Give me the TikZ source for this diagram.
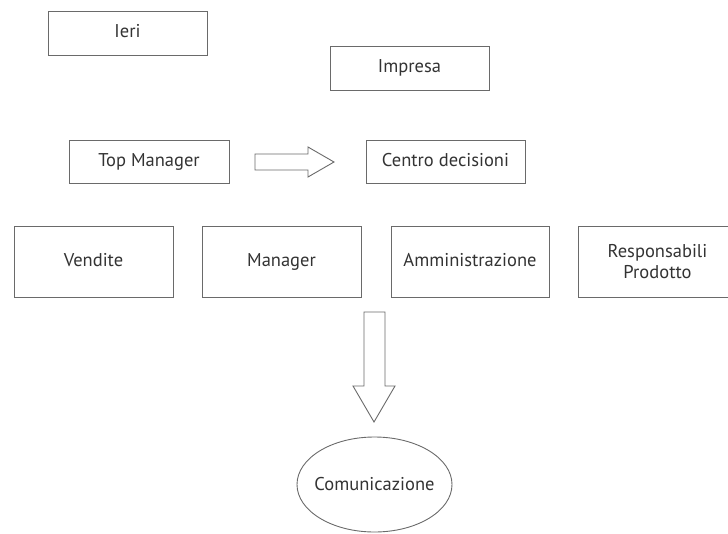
\documentclass[tikz,border=0pt]{standalone}
\usepackage{fontspec}
\setmainfont{PT Sans}
\usetikzlibrary{shapes.geometric}
\definecolor{linegray}{HTML}{6A6A6A}
\definecolor{textgray}{HTML}{333333}
\tikzset{
  box/.style={draw=linegray, line width=0.9pt, rectangle, inner sep=0pt, align=center,
    text=textgray, font=\fontsize{18.5}{21}\selectfont},
  oneline/.style={text height=13pt, text depth=4pt},
  oval/.style={draw=linegray, line width=0.9pt, ellipse, inner sep=0pt},
  ovaltext/.style={text=textgray, font=\fontsize{18.5}{21}\selectfont},
  hollowarrow/.style={draw=linegray, line width=0.9pt, fill=white, line join=miter}
}
\begin{document}
\begin{tikzpicture}[x=1pt,y=-1pt]
\useasboundingbox (0,0) rectangle (728,533);
\begin{scope}
\clip (0,0) rectangle (728,533);
\node[box, oneline, minimum width=159pt, minimum height=44pt] (ieri) at (127.5,33) {Ieri};
\node[box, oneline, minimum width=159pt, minimum height=44pt] (impresa) at (409.5,68) {Impresa};
\node[box, oneline, minimum width=160pt, minimum height=43pt] (top) at (149,161.5) {Top Manager};
\node[box, oneline, minimum width=159pt, minimum height=43pt] (centro) at (445.5,161.5) {Centro decisioni};
\node[box, oneline, minimum width=159pt, minimum height=71pt] (vendite) at (93.5,261.5) {Vendite};
\node[box, oneline, minimum width=159pt, minimum height=71pt] (manager) at (281.5,261.5) {Manager};
\node[box, oneline, minimum width=158pt, minimum height=71pt] (ammin) at (470,261.5) {Amministrazione};
\node[box, minimum width=159pt, minimum height=71pt] (resp) at (657.5,261.5) {Responsabili\\Prodotto};
\node[oval, minimum width=155pt, minimum height=95pt,
  label={[ovaltext]center:Comunicazione}] (comm) at (374.5,484.5) {};
% right hollow arrow
\draw[hollowarrow] (255,154) -- (308,154) -- (308,147) -- (334,162) -- (308,177) -- (308,170) -- (255,170) -- cycle;
% down hollow arrow
\draw[hollowarrow] (364,312) -- (385,312) -- (385,386) -- (395,386) -- (374,422) -- (353,386) -- (364,386) -- cycle;
\end{scope}
\end{tikzpicture}
\end{document}
